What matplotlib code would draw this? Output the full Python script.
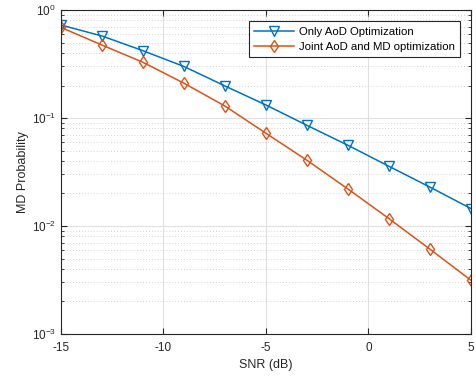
import numpy as np
import matplotlib
matplotlib.use('Agg')
import matplotlib.pyplot as plt
from matplotlib.ticker import LogLocator, NullFormatter

plt.rcParams['font.family'] = ['Liberation Sans', 'DejaVu Sans']
plt.rcParams['axes.unicode_minus'] = False

snr = [-15, -13, -11, -9, -7, -5, -3, -1, 1, 3, 5]
only_aod = [0.726, 0.575, 0.42, 0.30, 0.198, 0.132, 0.0855, 0.0559, 0.0357, 0.0229, 0.0145]
joint = [0.69, 0.474, 0.328, 0.21, 0.129, 0.0722, 0.0406, 0.022, 0.0117, 0.0061, 0.00314]

fig = plt.figure(figsize=(4.76, 3.78), dpi=100)
ax = fig.add_axes([0.128, 0.1164, 0.8615, 0.8571])

ax.semilogy(snr, only_aod, color='#0072BD', marker='v', mfc='none', ms=6.5,
            lw=1.1, mew=1.0, label='Only AoD Optimization')
ax.semilogy(snr, joint, color='#D95319', marker='d', mfc='none', ms=6.5,
            lw=1.1, mew=1.0, label='Joint AoD and MD optimization')

ax.set_xlim(-15, 5)
ax.set_ylim(1e-3, 1)
ax.set_xticks([-15, -10, -5, 0, 5])
ax.yaxis.set_major_locator(LogLocator(base=10, numticks=10))
ax.yaxis.set_minor_locator(LogLocator(base=10, subs=np.arange(2, 10), numticks=20))
ax.yaxis.set_minor_formatter(NullFormatter())

ax.grid(True, which='major', color='#e0e0e0', lw=0.8)
ax.grid(True, which='minor', axis='y', color='#c4c4c4', lw=0.6, ls=(0, (1, 2.5)))
ax.set_axisbelow(True)

ax.tick_params(which='both', direction='in', top=True, right=True, labelsize=8.5,
               colors='#262626')
ax.tick_params(axis='x', pad=6)
ax.tick_params(which='major', length=4)
ax.tick_params(which='minor', length=2)
for s in ax.spines.values():
    s.set_color('#262626')
    s.set_linewidth(0.8)

ax.set_xlabel('SNR (dB)', fontsize=9, color='#262626', labelpad=3)
ax.set_ylabel('MD Probability', fontsize=9, color='#262626', labelpad=2)

leg = ax.legend(loc='upper right', fontsize=8.2, fancybox=False, framealpha=1,
                edgecolor='#262626', borderaxespad=1.0, handlelength=3.5,
                handletextpad=0.4, borderpad=0.45, labelspacing=0.45)
leg.get_frame().set_linewidth(0.8)

fig.savefig('out.png', dpi=100)
